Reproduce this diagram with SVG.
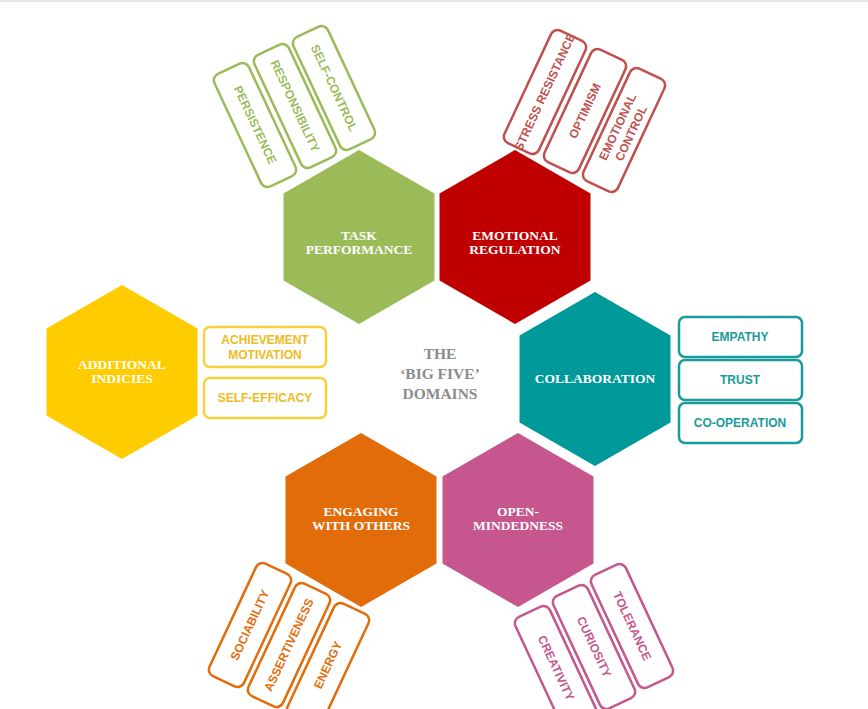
<svg xmlns="http://www.w3.org/2000/svg" width="868" height="709" viewBox="0 0 868 709">
<style>
.hl{font-family:"Liberation Serif",serif;font-weight:bold;font-size:13.5px;fill:#fff;text-anchor:middle}
.bl{font-family:"Liberation Sans",sans-serif;font-weight:bold;font-size:12px;text-anchor:middle;dominant-baseline:central}
.bx{fill:#fff;stroke-width:2.5}
</style>
<defs>
<polygon id="hex" points="0,-87 75.5,-43.5 75.5,43.5 0,87 -75.5,43.5 -75.5,-43.5"/>
</defs>
<rect width="868" height="709" fill="#fff"/>
<line x1="0" y1="1" x2="868" y2="1" stroke="#e6e6e6" stroke-width="2"/>
<g id="task">
<use href="#hex" x="359" y="237" fill="#9bbb59"/>
<text class="hl" x="359" y="240">TASK</text><text class="hl" x="359" y="254">PERFORMANCE</text>
<g stroke="#9bbb59" fill="#9bbb59">
<g transform="translate(255,125) rotate(65)"><rect class="bx" x="-62" y="-19" width="124" height="38" rx="7"/><text class="bl" stroke="none">PERSISTENCE</text></g>
<g transform="translate(295,106) rotate(65)"><rect class="bx" x="-62" y="-19" width="124" height="38" rx="7"/><text class="bl" stroke="none">RESPONSIBILITY</text></g>
<g transform="translate(334,88) rotate(65)"><rect class="bx" x="-62" y="-19" width="124" height="38" rx="7"/><text class="bl" stroke="none">SELF-CONTROL</text></g>
</g>
</g>
<g id="emotional">
<use href="#hex" x="515" y="237" fill="#c00000"/>
<text class="hl" x="515" y="240">EMOTIONAL</text><text class="hl" x="515" y="254">REGULATION</text>
<g stroke="#c0504d" fill="#c0504d">
<g transform="translate(545,92) rotate(-65)"><rect class="bx" x="-62" y="-19" width="124" height="38" rx="7"/><text class="bl" stroke="none">STRESS RESISTANCE</text></g>
<g transform="translate(585,111) rotate(-65)"><rect class="bx" x="-62" y="-19" width="124" height="38" rx="7"/><text class="bl" stroke="none">OPTIMISM</text></g>
<g transform="translate(624,130) rotate(-65)"><rect class="bx" x="-62" y="-19" width="124" height="38" rx="7"/><text class="bl" stroke="none" y="-7">EMOTIONAL</text><text class="bl" stroke="none" y="8">CONTROL</text></g>
</g>
</g>
<g id="collab">
<use href="#hex" x="595" y="379" fill="#009999"/>
<text class="hl" x="595" y="383">COLLABORATION</text>
<g stroke="#1a9a9a" fill="#1a9a9a">
<rect class="bx" x="679" y="317" width="123" height="40" rx="6"/><text class="bl" stroke="none" x="740" y="337">EMPATHY</text>
<rect class="bx" x="679" y="360" width="123" height="40" rx="6"/><text class="bl" stroke="none" x="740" y="380">TRUST</text>
<rect class="bx" x="679" y="403" width="123" height="40" rx="6"/><text class="bl" stroke="none" x="740" y="423">CO-OPERATION</text>
</g>
</g>
<g id="open">
<use href="#hex" x="518" y="520" fill="#c5568e"/>
<text class="hl" x="518" y="516">OPEN-</text><text class="hl" x="518" y="530">MINDEDNESS</text>
<g stroke="#c5568e" fill="#c5568e">
<g transform="translate(556,668) rotate(65)"><rect class="bx" x="-62" y="-19" width="124" height="38" rx="7"/><text class="bl" stroke="none">CREATIVITY</text></g>
<g transform="translate(594,647) rotate(65)"><rect class="bx" x="-62" y="-19" width="124" height="38" rx="7"/><text class="bl" stroke="none">CURIOSITY</text></g>
<g transform="translate(632,626) rotate(65)"><rect class="bx" x="-62" y="-19" width="124" height="38" rx="7"/><text class="bl" stroke="none">TOLERANCE</text></g>
</g>
</g>
<g id="engaging">
<use href="#hex" x="361" y="520" fill="#e36c0a"/>
<text class="hl" x="361" y="516">ENGAGING</text><text class="hl" x="361" y="530">WITH OTHERS</text>
<g stroke="#e36c0a" fill="#e36c0a">
<g transform="translate(250,625) rotate(-65)"><rect class="bx" x="-62" y="-19" width="124" height="38" rx="7"/><text class="bl" stroke="none">SOCIABILITY</text></g>
<g transform="translate(289,645) rotate(-65)"><rect class="bx" x="-62" y="-19" width="124" height="38" rx="7"/><text class="bl" stroke="none">ASSERTIVENESS</text></g>
<g transform="translate(328,665) rotate(-65)"><rect class="bx" x="-62" y="-19" width="124" height="38" rx="7"/><text class="bl" stroke="none">ENERGY</text></g>
</g>
</g>
<g id="additional">
<use href="#hex" x="122" y="372" fill="#ffcc00"/>
<text class="hl" x="122" y="369">ADDITIONAL</text><text class="hl" x="122" y="383">INDICIES</text>
<g stroke="#f5d23c" fill="#eebb22">
<rect class="bx" x="204" y="327" width="122" height="40" rx="6"/><text class="bl" stroke="none" x="265" y="340">ACHIEVEMENT</text><text class="bl" stroke="none" x="265" y="355">MOTIVATION</text>
<rect class="bx" x="204" y="378" width="122" height="40" rx="6"/><text class="bl" stroke="none" x="265" y="398">SELF-EFFICACY</text>
</g>
</g>
<g id="center" font-family="Liberation Serif,serif" font-weight="bold" font-size="15.5" fill="#8c8c8c" text-anchor="middle">
<text x="440" y="359">THE</text><text x="440" y="379">‘BIG FIVE’</text><text x="440" y="399">DOMAINS</text>
</g>
<g id="connectors"/>
</svg>
